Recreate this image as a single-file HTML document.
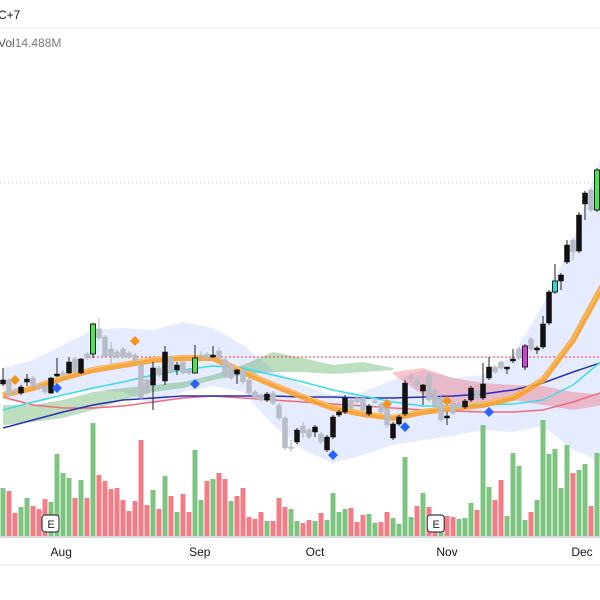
<!DOCTYPE html>
<html><head><meta charset="utf-8"><style>
html,body{margin:0;padding:0;background:#fff;width:600px;height:600px;overflow:hidden}
svg{display:block;font-family:"Liberation Sans",sans-serif}
</style></head><body>
<svg id="chart" width="600" height="600" viewBox="0 0 600 600" xmlns="http://www.w3.org/2000/svg">
<rect x="0" y="0" width="600" height="600" fill="#fff"/>
<text x="-2" y="19" font-size="12" fill="#131722">C+7</text>
<line x1="0" y1="28" x2="600" y2="28" stroke="#eef0f3" stroke-width="1"/>
<text x="-2" y="47" font-size="12" fill="#555"><tspan>Vol</tspan><tspan fill="#787b86">14.488M</tspan></text>
<g id="bands"></g><g id="clouds"></g><g id="lines"></g><g id="vols"></g><g id="candles"></g><g id="marks"></g>
<line x1="0" y1="537" x2="600" y2="537" stroke="#b2b5be" stroke-width="1"/>
<line x1="0" y1="565" x2="600" y2="565" stroke="#f0f1f3" stroke-width="2"/>
<g id="xaxis"></g>
</svg>
<script>
const opens=[216,220,209,207,218,222,214,213,207,224,227,227,241,227,246,246,271,263,251,248,251,247,245,235,220,215,232,219,242,230,238,230,227,245,246,243,249,240,235,226,230,220,208,205,200,207,195,182,153,158,174,170,168,166,150,163,185,188,200,202,202,186,199,196,193,162,176,186,223,220,209,225,210,202,182,197,196,193,200,210,202,222,233,238,231,239,251,233,261,250,253,277,308,319,338,360,349,396,410,390];
const highs=[232,222,212,215,226,224,216,215,223,242,230,243,243,242,248,277,282,265,258,250,253,249,247,237,222,238,234,254,244,238,240,232,255,249,248,254,253,242,237,231,232,222,210,207,208,209,197,184,160,172,178,172,175,168,165,185,190,205,202,204,204,196,201,198,195,178,185,220,227,222,216,227,212,204,188,199,198,201,214,212,237,243,235,240,233,251,253,256,263,254,284,310,336,327,360,362,388,409,412,432];
const lows=[214,203,205,205,214,212,210,206,206,223,222,226,227,226,240,242,260,242,236,241,241,241,238,200,205,190,223,215,226,225,225,225,227,242,240,242,240,223,220,216,216,205,200,198,198,195,180,150,148,156,162,161,163,156,148,161,183,186,190,196,188,184,196,186,172,160,174,184,218,213,195,198,193,178,175,185,190,191,198,200,200,220,226,230,226,237,240,230,249,246,251,275,306,310,336,340,347,380,388,388];
const closes=[220,205,208,213,221,214,213,208,222,226,226,238,228,241,242,276,262,244,244,243,243,243,240,202,207,232,225,248,228,235,227,227,242,244,242,245,242,225,222,230,218,207,202,200,206,197,182,152,152,170,167,163,173,158,163,183,188,202,192,198,190,194,198,188,175,176,183,217,222,215,215,200,195,180,184,187,192,199,212,202,216,233,228,232,233,241,242,254,251,252,276,308,319,325,355,348,385,407,390,430];
const highlightIdx=[15,32,99,87,92];
const highlightColor=["#4ee44e","#4ee44e","#4ee44e","#d23fd6","#2fd6d0"];
const volumes=[48,45,23,29,38,30,27,37,34,82,63,58,38,56,38,113,61,55,47,48,36,25,35,96,31,46,27,60,40,24,42,24,86,36,55,57,63,57,35,40,48,19,17,24,15,15,38,29,27,15,13,16,15,23,16,43,24,27,28,14,21,22,13,14,24,18,12,79,19,30,43,29,16,14,20,19,17,18,33,26,111,49,36,56,20,83,70,16,24,36,116,82,87,48,91,63,66,72,30,83];
const volUp=[1,0,0,1,1,0,0,0,1,1,1,1,0,1,0,1,0,0,0,0,0,0,0,0,0,1,0,1,0,1,0,0,1,1,0,1,0,0,1,0,0,0,0,0,1,0,0,0,1,1,0,0,1,0,1,1,1,1,0,0,0,1,1,0,0,1,1,1,1,0,1,0,0,1,0,0,1,1,1,0,1,1,0,0,1,1,1,1,0,1,1,1,1,1,1,0,1,1,0,1];
const sampleIdx=[0,5,10,15,20,25,30,35,40,45,50,55,60,65,70,75,80,85,90,95,100];
const bbUpper=[232,240,255,270,272,270,278,272,255,230,215,205,208,220,230,222,225,245,295,360,450];
const bbLower=[200,195,205,210,208,195,208,214,208,175,150,137,145,155,160,164,170,168,174,150,138];
const emaOrange=[205,212,222,230,235,240,242,242,228,215,203,192,186,182,188,192,195,202,220,260,315];
const maCyan=[190,198,205,212,218,225,230,234,232,225,218,210,204,198,194,194,195,196,200,215,240];
const maBlue=[172,180,188,195,200,202,204,204,204,204,203,203,202,202,203,204,206,210,217,228,238];
const maRed=[203,195,192,192,194,198,202,204,202,200,198,196,194,192,190,189,188,188,190,198,208];
const greenCloudIdx=[0,5,10,15,20,25,30,35,40,45,50,55,60,65];
const greenTop=[195,195,200,208,212,215,218,225,235,248,242,235,238,232];
const greenBot=[175,178,182,190,200,208,212,220,225,228,228,226,228,230];
const redCloudIdx=[65,70,75,80,85,90,95,100];
const redTop=[228,232,222,217,215,214,208,205];
const redBot=[226,205,195,198,200,195,190,195];
const markIdx=[2,22,64,74,9,32,55,67,81];
const markPrice=[220,259,196,199,212,216,145,173,188];
const markType=["o","o","o","o","b","b","b","b","b"];
const monthLabels=["Aug","Sep","Oct","Nov","Dec"];
const monthIdx=[9.7,32.8,52,74,96.5];
const earningsIdx=[8,72.2];
const resistPrice=243, highPrice=417;

const NS="http://www.w3.org/2000/svg";
const xS=i=>3+6*i;
const yP=p=>600-p;
const yV=v=>536-v;
function mk(tag,attrs,parent){const e=document.createElementNS(NS,tag);for(const k in attrs)e.setAttribute(k,attrs[k]);parent.appendChild(e);return e;}
const G=id=>document.getElementById(id);

const bPts=sampleIdx.map((i,k)=>xS(i)+","+yP(bbUpper[k])).concat(sampleIdx.slice().reverse().map((i,k)=>xS(i)+","+yP(bbLower[sampleIdx.length-1-k])));
const band=mk("polygon",{points:bPts.join(" "),fill:"rgba(41,98,255,0.12)"},G("bands"));


const gc=mk("polygon",{points:greenCloudIdx.map((i,k)=>xS(i)+","+yP(greenTop[k])).concat(greenCloudIdx.slice().reverse().map((i,k)=>xS(i)+","+yP(greenBot[greenCloudIdx.length-1-k]))).join(" "),fill:"rgba(67,160,71,0.35)"},G("clouds"));


const rc=mk("polygon",{points:redCloudIdx.map((i,k)=>xS(i)+","+yP(redTop[k])).concat(redCloudIdx.slice().reverse().map((i,k)=>xS(i)+","+yP(redBot[redCloudIdx.length-1-k]))).join(" "),fill:"rgba(242,54,69,0.28)"},G("clouds"));



const rl=mk("line",{x1:85,x2:600,y1:yP(resistPrice),y2:yP(resistPrice),stroke:"#f23645","stroke-width":1,"stroke-dasharray":"2,2"},G("lines"));


const hl=mk("line",{x1:0,x2:600,y1:yP(highPrice),y2:yP(highPrice),stroke:"#c8cad0","stroke-width":1,"stroke-dasharray":"1,3"},G("lines"));



function line(vals,color,w,name,op){
  const p=mk("polyline",{points:sampleIdx.map((i,k)=>xS(i)+","+yP(vals[k])).join(" "),fill:"none",stroke:color,"stroke-width":w,"stroke-linejoin":"round","stroke-opacity":op||1},G("lines"));
  
  
}
line(maRed,"#f06a7a",1.5,"red-ma-line");
line(maBlue,"#2a2fb8",1.5,"blue-ma-line");
line(maCyan,"#3fdbe8",1.5,"cyan-ma-line");
line(emaOrange,"#f7a030",6,"orange-ema-ribbon",0.9);
line(emaOrange.map(v=>v+2),"#ffd27a",1,"orange-ema-inner",0.8);

volumes.forEach((v,i)=>{
  const r=mk("rect",{x:xS(i)-2.5,y:yV(v),width:5,height:v,fill:volUp[i]?"#7cc47f":"#f27d86"},G("vols"));
  
  
});

opens.forEach((o,i)=>{
  const c=closes[i],up=c>=o;
  const hi=highlightIdx.indexOf(i);
  let fill=up?"#111":"#b8bcc6",stroke=fill;
  if(hi>=0){fill=highlightColor[hi];stroke="#222";}
  const g=mk("g",{},G("candles"));
  
  
  mk("line",{x1:xS(i),x2:xS(i),y1:yP(highs[i]),y2:yP(lows[i]),stroke:up||hi>=0?"#222":"#aeb2bc","stroke-width":1},g);
  const top=yP(Math.max(o,c)),h=Math.max(1.5,Math.abs(c-o));
  mk("rect",{x:xS(i)-2.5,y:top,width:5,height:h,fill:fill,stroke:stroke,"stroke-width":hi>=0?1:0.5},g);
});

markIdx.forEach((i,k)=>{
  const x=xS(i),y=yP(markPrice[k]);
  const d=mk("polygon",{points:`${x},${y-5} ${x+5},${y} ${x},${y+5} ${x-5},${y}`,fill:markType[k]==="o"?"#f7931a":"#2962ff"},G("marks"));
  
  
});

monthLabels.forEach((m,k)=>{
  const t=mk("text",{x:xS(monthIdx[k]),y:556,"font-size":12,fill:"#131722","text-anchor":"middle"},G("xaxis"));
  t.textContent=m;
  
  
});
earningsIdx.forEach(i=>{
  const g=mk("g",{},G("xaxis"));
  
  
  const x=xS(i);
  mk("rect",{x:x-9,y:515,width:17,height:17,rx:3,fill:"#fff",stroke:"#3a3d45","stroke-width":1.2},g);
  const t=mk("text",{x:x,y:528,"font-size":11,fill:"#222","text-anchor":"middle"},g);
  t.textContent="E";
});
</script>
</body></html>
